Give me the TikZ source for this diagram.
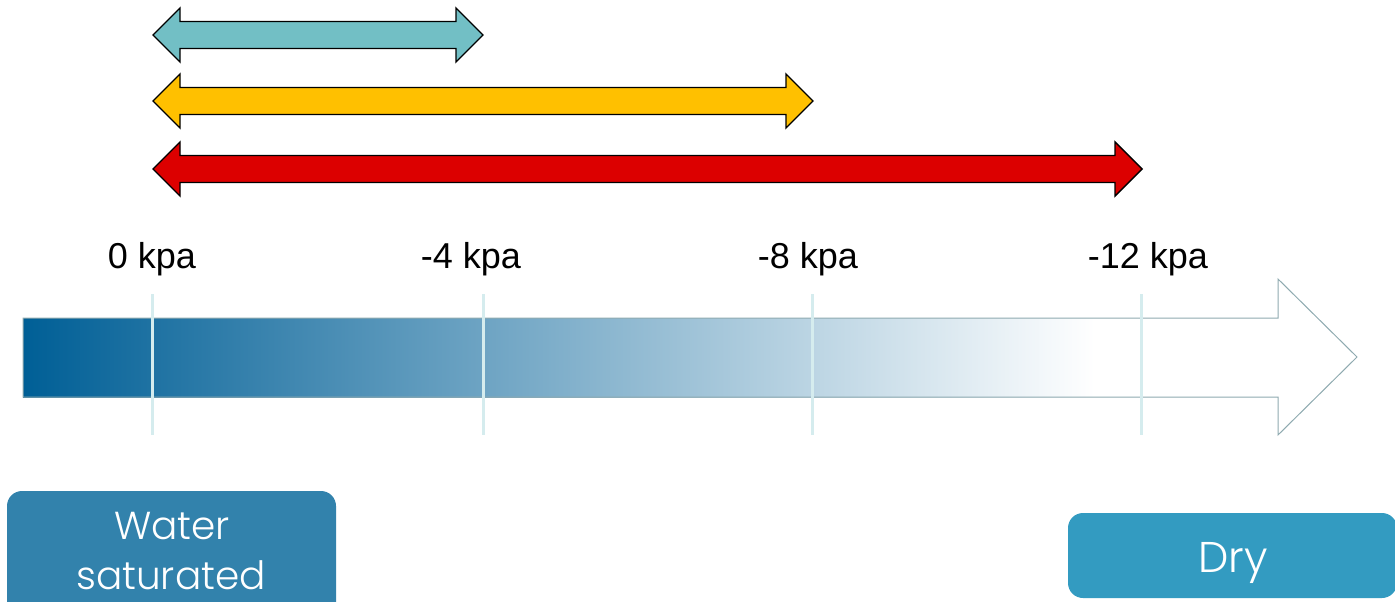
\documentclass[tikz,border=0pt]{standalone}
\usepackage{fontspec}
\setmainfont{Liberation Sans}
\IfFontExistsTF{Poppins Light}
  {\newfontfamily\boxfont{Poppins Light}}
  {\newfontfamily\boxfont{Lato}}
\usetikzlibrary{calc}

\definecolor{lagoon}{HTML}{72BFC5}
\definecolor{amber}{HTML}{FFC000}
\definecolor{scarlet}{HTML}{DC0000}
\definecolor{deepblue}{HTML}{005F96}
\definecolor{rim}{HTML}{8FAAB0}
\definecolor{tickcol}{HTML}{D5ECEE}
\definecolor{wetbox}{HTML}{3282AC}
\definecolor{drybox}{HTML}{339BC1}

\tikzset{
  rangeoutline/.style={draw=black, line width=1.4pt, line join=miter},
  scalelabel/.style={anchor=base, inner sep=0pt, font=\fontsize{36}{40}\selectfont},
  tickline/.style={draw=tickcol, line width=3pt},
  statebox/.style={rounded corners=15pt},
  boxtext/.style={anchor=base, inner sep=0pt, text=white}
}

% double-headed range arrow: fill colour, centre y, left tip x, right tip x
\newcommand\rangearrow[4]{%
  \filldraw[fill=#1, rangeoutline] (#3,#2) -- (#3+27,#2-27) -- (#3+27,#2-13.5)
    -- (#4-27,#2-13.5) -- (#4-27,#2-27) -- (#4,#2) -- (#4-27,#2+27)
    -- (#4-27,#2+13.5) -- (#3+27,#2+13.5) -- (#3+27,#2+27) -- cycle;}

\begin{document}
\begin{tikzpicture}[x=1pt,y=-1pt]
\useasboundingbox (0,0) rectangle (1395,602);
\clip (0,0) rectangle (1395,602);

% suction ranges
\rangearrow{lagoon}{35}{153}{483}
\rangearrow{amber}{101}{153}{813}
\rangearrow{scarlet}{169}{153}{1142}

% moisture scale arrow
\fill[white] (23,318) -- (1278,318) -- (1278,279) -- (1357,357) -- (1278,435)
  -- (1278,397) -- (23,397) -- cycle;
\shade[left color=deepblue, right color=white] (23,318) rectangle (1095,397);
\draw[rim, line width=1pt] (23,318) -- (1278,318) -- (1278,279) -- (1357,357)
  -- (1278,435) -- (1278,397) -- (23,397) -- cycle;

% tick marks and labels
\coordinate (t0) at (152,294);
\coordinate (t4) at (483,294);
\coordinate (t8) at (812,294);
\coordinate (t12) at (1141,294);
\draw[tickline] (t0) -- ++(0,141);
\draw[tickline] (t4) -- ++(0,141);
\draw[tickline] (t8) -- ++(0,141);
\draw[tickline] (t12) -- ++(0,141);

\node[scalelabel] (l0) at (152,268) {0 kpa};
\node[scalelabel] (l4) at (471,268) {-4 kpa};
\node[scalelabel] (l8) at (808,268) {-8 kpa};
\node[scalelabel] (l12) at (1148,268) {-12 kpa};

% end states
\fill[wetbox, statebox] (7,491) rectangle (336,620);
\node[boxtext, font=\boxfont\fontsize{39}{44}\selectfont] (wet1) at (172,539) {Water};
\node[boxtext, font=\boxfont\fontsize{39}{44}\selectfont] (wet2) at (171,589) {saturated};

\fill[drybox, statebox] (1068,513) rectangle (1397,598);
\node[boxtext, font=\boxfont\fontsize{43}{48}\selectfont] (dry) at (1233,572) {Dry};
\end{tikzpicture}
\end{document}
